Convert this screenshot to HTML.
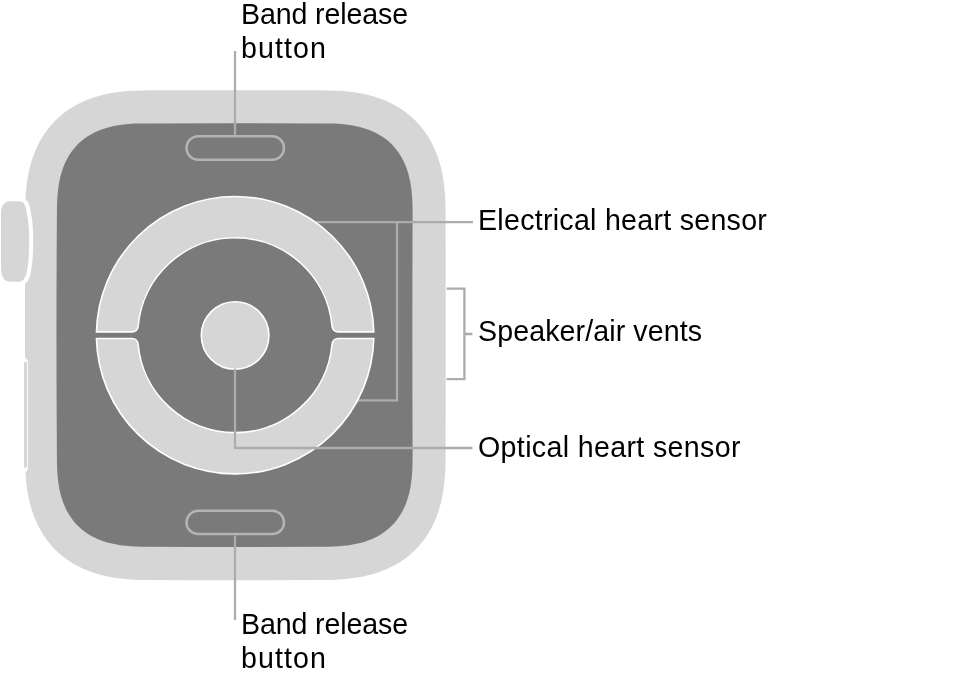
<!DOCTYPE html>
<html><head><meta charset="utf-8"><style>html,body{margin:0;padding:0;background:#fff;overflow:hidden}svg{display:block;will-change:transform}</style></head>
<body><svg width="958" height="681" viewBox="0 0 958 681">
<rect width="958" height="681" fill="#fff"/>
<path d="M318.60 90.35 L328.62 90.43 L335.85 90.66 L342.29 91.04 L348.24 91.58 L353.85 92.27 L359.18 93.11 L364.27 94.11 L369.16 95.25 L373.86 96.55 L378.39 98.00 L382.75 99.59 L386.96 101.34 L391.02 103.23 L394.93 105.28 L398.69 107.47 L402.31 109.80 L405.79 112.28 L409.13 114.90 L412.32 117.67 L415.37 120.58 L418.28 123.63 L421.05 126.82 L423.67 130.16 L426.15 133.64 L428.48 137.26 L430.67 141.02 L432.72 144.93 L434.61 148.99 L436.36 153.20 L437.95 157.56 L439.40 162.09 L440.70 166.79 L441.84 171.68 L442.84 176.77 L443.68 182.10 L444.37 187.71 L444.91 193.66 L445.29 200.10 L445.52 207.33 L445.60 217.35 Q445.90 335.18 445.60 453.00 L445.52 463.02 L445.29 470.25 L444.91 476.69 L444.37 482.64 L443.68 488.25 L442.84 493.58 L441.84 498.67 L440.70 503.56 L439.40 508.26 L437.95 512.79 L436.36 517.15 L434.61 521.36 L432.72 525.42 L430.67 529.33 L428.48 533.09 L426.15 536.71 L423.67 540.19 L421.05 543.53 L418.28 546.72 L415.37 549.77 L412.32 552.68 L409.13 555.45 L405.79 558.07 L402.31 560.55 L398.69 562.88 L394.93 565.07 L391.02 567.12 L386.96 569.01 L382.75 570.76 L378.39 572.35 L373.86 573.80 L369.16 575.10 L364.27 576.24 L359.18 577.24 L353.85 578.08 L348.24 578.77 L342.29 579.31 L335.85 579.69 L328.62 579.92 L318.60 580.00 Q235.35 580.40 152.10 580.00 L142.08 579.92 L134.85 579.69 L128.41 579.31 L122.46 578.77 L116.85 578.08 L111.52 577.24 L106.43 576.24 L101.54 575.10 L96.84 573.80 L92.31 572.35 L87.95 570.76 L83.74 569.01 L79.68 567.12 L75.77 565.07 L72.01 562.88 L68.39 560.55 L64.91 558.07 L61.57 555.45 L58.38 552.68 L55.33 549.77 L52.42 546.72 L49.65 543.53 L47.03 540.19 L44.55 536.71 L42.22 533.09 L40.03 529.33 L37.98 525.42 L36.09 521.36 L34.34 517.15 L32.75 512.79 L31.30 508.26 L30.00 503.56 L28.86 498.67 L27.86 493.58 L27.02 488.25 L26.33 482.64 L25.79 476.69 L25.41 470.25 L25.18 463.02 L25.10 453.00 Q24.80 335.18 25.10 217.35 L25.18 207.33 L25.41 200.10 L25.79 193.66 L26.33 187.71 L27.02 182.10 L27.86 176.77 L28.86 171.68 L30.00 166.79 L31.30 162.09 L32.75 157.56 L34.34 153.20 L36.09 148.99 L37.98 144.93 L40.03 141.02 L42.22 137.26 L44.55 133.64 L47.03 130.16 L49.65 126.82 L52.42 123.63 L55.33 120.58 L58.38 117.67 L61.57 114.90 L64.91 112.28 L68.39 109.80 L72.01 107.47 L75.77 105.28 L79.68 103.23 L83.74 101.34 L87.95 99.59 L92.31 98.00 L96.84 96.55 L101.54 95.25 L106.43 94.11 L111.52 93.11 L116.85 92.27 L122.46 91.58 L128.41 91.04 L134.85 90.66 L142.08 90.43 L152.10 90.35 Q235.35 89.95 318.60 90.35 Z" fill="#d6d6d6"/>
<path d="M319.60 123.40 L328.20 123.45 L333.91 123.61 L338.87 123.87 L343.37 124.24 L347.56 124.72 L351.51 125.30 L355.25 125.98 L358.82 126.77 L362.23 127.66 L365.49 128.66 L368.63 129.76 L371.64 130.97 L374.53 132.27 L377.30 133.69 L379.97 135.20 L382.52 136.82 L384.97 138.54 L387.31 140.36 L389.55 142.29 L391.68 144.32 L393.71 146.45 L395.64 148.69 L397.46 151.03 L399.18 153.48 L400.80 156.03 L402.31 158.70 L403.73 161.47 L405.03 164.36 L406.24 167.37 L407.34 170.51 L408.34 173.77 L409.23 177.18 L410.02 180.75 L410.70 184.49 L411.28 188.44 L411.76 192.63 L412.13 197.13 L412.39 202.09 L412.55 207.80 L412.60 216.40 Q412.10 335.05 412.60 453.70 L412.55 462.30 L412.39 468.01 L412.13 472.97 L411.76 477.47 L411.28 481.66 L410.70 485.61 L410.02 489.35 L409.23 492.92 L408.34 496.33 L407.34 499.59 L406.24 502.73 L405.03 505.74 L403.73 508.63 L402.31 511.40 L400.80 514.07 L399.18 516.62 L397.46 519.07 L395.64 521.41 L393.71 523.65 L391.68 525.78 L389.55 527.81 L387.31 529.74 L384.97 531.56 L382.52 533.28 L379.97 534.90 L377.30 536.41 L374.53 537.83 L371.64 539.13 L368.63 540.34 L365.49 541.44 L362.23 542.44 L358.82 543.33 L355.25 544.12 L351.51 544.80 L347.56 545.38 L343.37 545.86 L338.87 546.23 L333.91 546.49 L328.20 546.65 L319.60 546.70 Q234.75 547.10 149.90 546.70 L141.30 546.65 L135.59 546.49 L130.63 546.23 L126.13 545.86 L121.94 545.38 L117.99 544.80 L114.25 544.12 L110.68 543.33 L107.27 542.44 L104.01 541.44 L100.87 540.34 L97.86 539.13 L94.97 537.83 L92.20 536.41 L89.53 534.90 L86.98 533.28 L84.53 531.56 L82.19 529.74 L79.95 527.81 L77.82 525.78 L75.79 523.65 L73.86 521.41 L72.04 519.07 L70.32 516.62 L68.70 514.07 L67.19 511.40 L65.77 508.63 L64.47 505.74 L63.26 502.73 L62.16 499.59 L61.16 496.33 L60.27 492.92 L59.48 489.35 L58.80 485.61 L58.22 481.66 L57.74 477.47 L57.37 472.97 L57.11 468.01 L56.95 462.30 L56.90 453.70 Q56.00 335.05 56.90 216.40 L56.95 207.80 L57.11 202.09 L57.37 197.13 L57.74 192.63 L58.22 188.44 L58.80 184.49 L59.48 180.75 L60.27 177.18 L61.16 173.77 L62.16 170.51 L63.26 167.37 L64.47 164.36 L65.77 161.47 L67.19 158.70 L68.70 156.03 L70.32 153.48 L72.04 151.03 L73.86 148.69 L75.79 146.45 L77.82 144.32 L79.95 142.29 L82.19 140.36 L84.53 138.54 L86.98 136.82 L89.53 135.20 L92.20 133.69 L94.97 132.27 L97.86 130.97 L100.87 129.76 L104.01 128.66 L107.27 127.66 L110.68 126.77 L114.25 125.98 L117.99 125.30 L121.94 124.72 L126.13 124.24 L130.63 123.87 L135.59 123.61 L141.30 123.45 L149.90 123.40 Q234.75 123.00 319.60 123.40 Z" fill="#7a7a7a"/>
<path d="M10.5 201.2 H19 C24 201.2 26.2 206 26.7 212.6 C29.9 225 29.9 252 27.6 267 C26.8 276 24 281.7 19 281.7 H10 C4 281.7 1 276 1 268 V213 C1 206 4.5 201.2 10.5 201.2 Z" fill="#fff" stroke="#fff" stroke-width="8"/><path d="M10.5 201.2 H19 C24 201.2 26.2 206 26.7 212.6 C29.9 225 29.9 252 27.6 267 C26.8 276 24 281.7 19 281.7 H10 C4 281.7 1 276 1 268 V213 C1 206 4.5 201.2 10.5 201.2 Z" fill="#d6d6d6"/>
<path d="M20 357.2 H24.9 C25.8 357.6 28 360.5 28 362.6 V467.3 C28 469.5 26.5 471.5 25.8 472.3 H20 Z" fill="#fff"/><rect x="24" y="361.7" width="3.1" height="106" rx="1.5" fill="#d6d6d6"/>
<rect x="186.5" y="136.3" width="97.5" height="23.4" rx="11.7" fill="none" stroke="#b4b4b4" stroke-width="2.5"/>
<rect x="186.5" y="510.7" width="97.5" height="23.4" rx="11.7" fill="none" stroke="#b4b4b4" stroke-width="2.5"/>
<path d="M300 222.2 H473 M397 222.2 V401.5 M340 400.4 H398.1" stroke="#acacac" stroke-width="2.3" fill="none"/>
<g fill="#d6d6d6" stroke="#fff" stroke-width="1.6">
<path d="M96.44 331.90 A138.7 138.7 0 0 1 373.76 331.90 L338.08 331.90 A6 6 0 0 1 332.11 326.44 A97.4 97.4 0 0 0 138.09 326.44 A6 6 0 0 1 132.12 331.90 Z"/>
<path d="M96.44 331.90 A138.7 138.7 0 0 1 373.76 331.90 L338.08 331.90 A6 6 0 0 1 332.11 326.44 A97.4 97.4 0 0 0 138.09 326.44 A6 6 0 0 1 132.12 331.90 Z" transform="translate(0 670.40) scale(1 -1)"/>
<circle cx="235.1" cy="335.5" r="33.80"/>
</g>
<g stroke="#acacac" stroke-width="2.3" fill="none" stroke-linecap="butt">
<path d="M235 51 V135"/>
<path d="M235 535.5 V620"/>
<path d="M235 368.8 V448 H472.4"/>
<path d="M446.7 288.6 H464.4 V379.1 H446.7 M464.4 334 H472.4"/>
</g>
<g font-family="'Liberation Sans', sans-serif" font-size="28.6" fill="#000">
<text x="241" y="23.8" letter-spacing="-0.13">Band release</text>
<text x="241" y="58.4" letter-spacing="1.08">button</text>
<text x="241" y="633.8" letter-spacing="-0.13">Band release</text>
<text x="241" y="668.2" letter-spacing="1.08">button</text>
<text x="478" y="229.9" letter-spacing="0.27">Electrical heart sensor</text>
<text x="478" y="341.4" letter-spacing="0.1">Speaker/air vents</text>
<text x="478" y="457.1" letter-spacing="0.35">Optical heart sensor</text>
</g>
</svg></body></html>
